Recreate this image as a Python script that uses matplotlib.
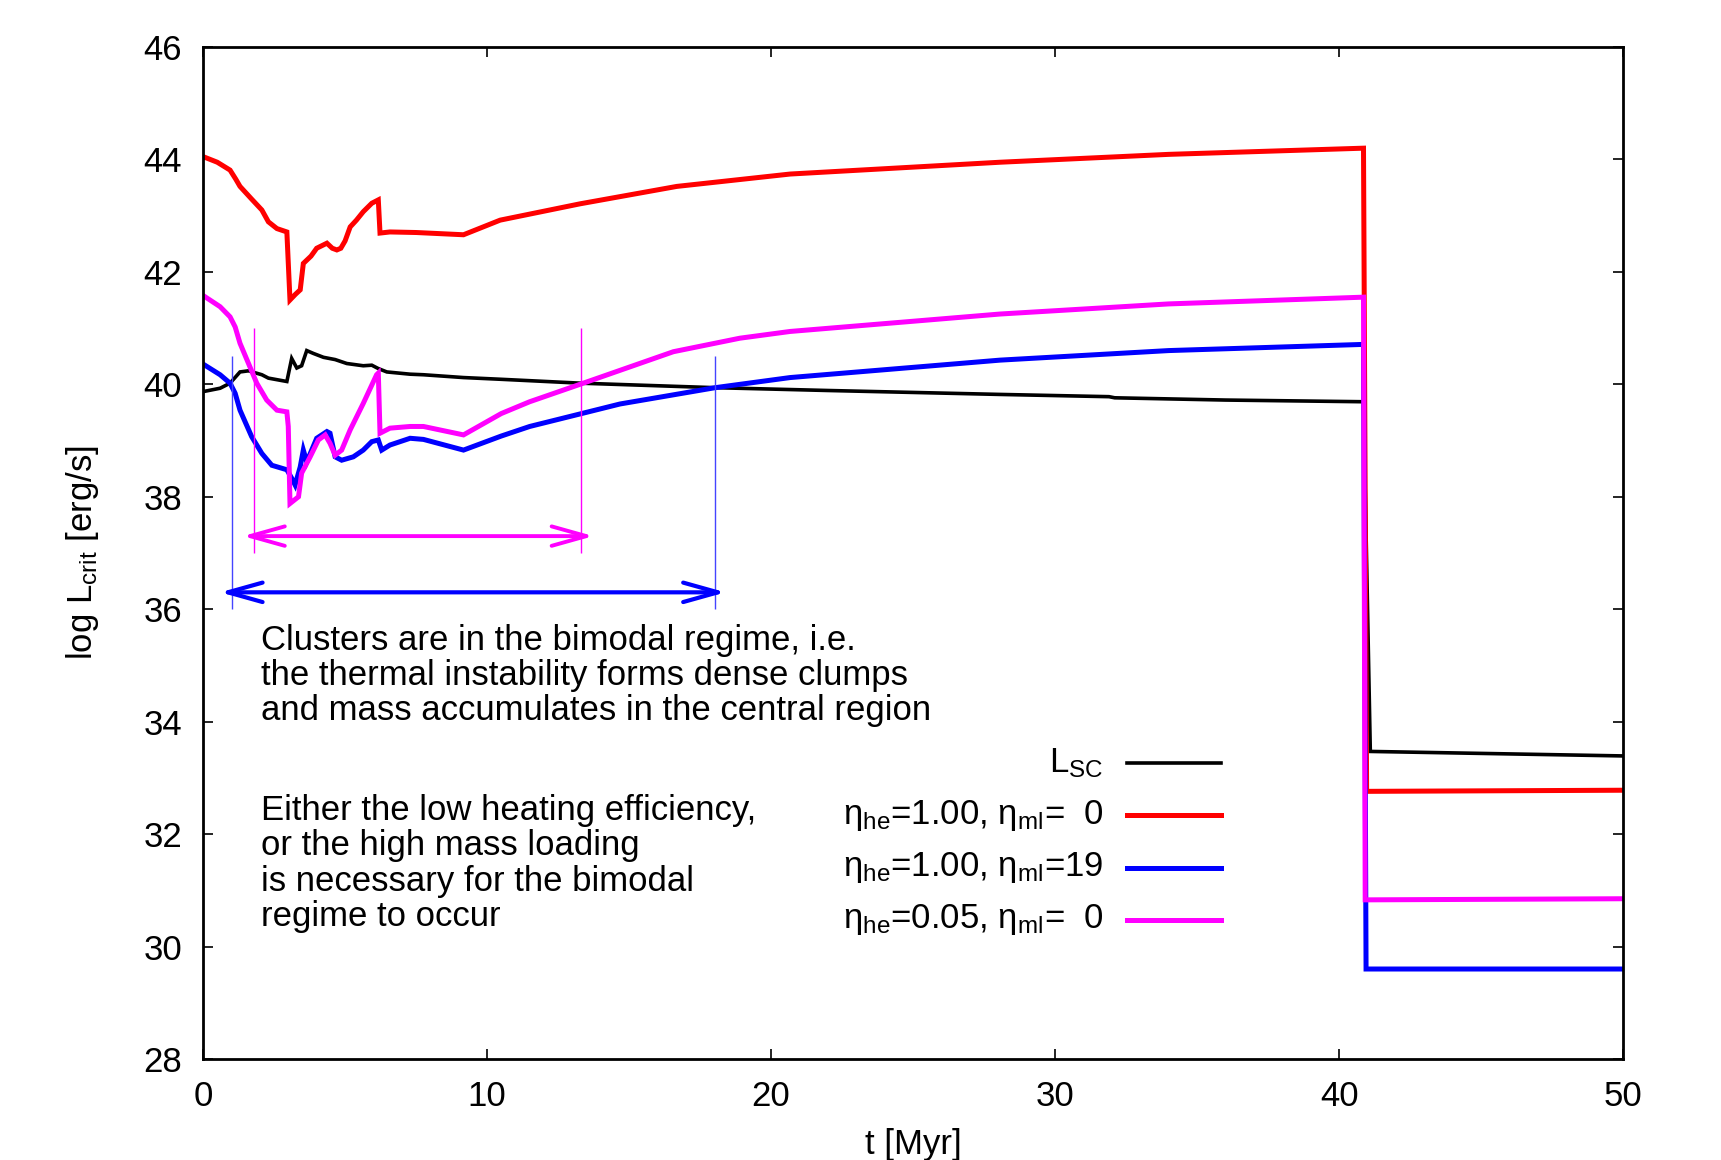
import matplotlib
matplotlib.use('Agg')
import matplotlib.pyplot as plt

plt.rcParams['font.family'] = ['Liberation Sans', 'DejaVu Sans']
plt.rcParams['mathtext.fontset'] = 'custom'
plt.rcParams['mathtext.rm'] = 'Liberation Sans'
plt.rcParams['mathtext.it'] = 'Liberation Sans:italic'

# L_SC (black)
t_sc = [0.0, 0.6, 0.95, 1.3, 1.6, 2.07, 2.3, 2.95, 3.12, 3.3, 3.47, 3.65, 3.88, 4.24,
        4.65, 5.06, 5.64, 5.94, 6.17, 6.47, 7.29, 7.76, 9.17, 10.46, 13.3, 18.03, 22.0,
        28.06, 31.9, 32.1, 36.0, 40.86, 41.1, 50.0]
L_sc = [39.87, 39.93, 40.02, 40.22, 40.24, 40.17, 40.11, 40.05, 40.46, 40.29, 40.33, 40.60,
        40.55, 40.48, 40.44, 40.37, 40.33, 40.34, 40.28, 40.22, 40.18, 40.17, 40.12, 40.09,
        40.02, 39.94, 39.89, 39.82, 39.78, 39.76, 39.72, 39.69, 33.47, 33.39]

# eta_he=1.00, eta_ml=0 (red)
t_red = [0.0, 0.5, 0.95, 1.15, 1.3, 1.7, 2.07, 2.3, 2.6, 2.95, 3.06, 3.25, 3.42, 3.53, 3.8,
         4.0, 4.36, 4.55, 4.71, 4.85, 5.0, 5.18, 5.4, 5.64, 5.94, 6.17, 6.23, 6.58, 7.5,
         9.17, 10.46, 13.27, 16.68, 20.67, 28.06, 34.0, 40.86, 40.97, 50.0]
L_red = [44.05, 43.95, 43.81, 43.65, 43.52, 43.30, 43.10, 42.89, 42.77, 42.71, 41.50, 41.60,
         41.68, 42.15, 42.28, 42.42, 42.51, 42.42, 42.39, 42.42, 42.55, 42.80, 42.92, 43.07,
         43.22, 43.28, 42.69, 42.71, 42.70, 42.66, 42.92, 43.21, 43.52, 43.74, 43.95, 44.09,
         44.20, 32.76, 32.78]

# eta_he=1.00, eta_ml=19 (blue)
t_blue = [0.0, 0.6, 0.95, 1.13, 1.3, 1.71, 2.07, 2.42, 2.95, 3.12, 3.24, 3.42, 3.53, 3.65,
          4.0, 4.36, 4.47, 4.65, 4.88, 5.29, 5.64, 5.94, 6.17, 6.29, 6.58, 7.29, 7.76, 9.17,
          10.5, 11.5, 13.33, 14.68, 18.03, 20.67, 28.06, 34.0, 40.86, 40.95, 50.0]
L_blue = [40.36, 40.17, 40.02, 39.84, 39.54, 39.07, 38.77, 38.56, 38.48, 38.33, 38.21, 38.53,
          38.83, 38.62, 39.04, 39.16, 39.13, 38.71, 38.65, 38.71, 38.83, 38.98, 39.01, 38.83,
          38.92, 39.04, 39.02, 38.83, 39.08, 39.25, 39.48, 39.65, 39.94, 40.12, 40.43, 40.60,
          40.71, 29.60, 29.60]

# eta_he=0.05, eta_ml=0 (magenta)
t_mag = [0.0, 0.6, 0.95, 1.13, 1.3, 1.6, 1.89, 2.24, 2.6, 2.95, 3.0, 3.06, 3.36, 3.47, 3.77,
         4.06, 4.3, 4.47, 4.65, 4.88, 5.18, 5.64, 6.11, 6.17, 6.23, 6.58, 7.29, 7.76, 9.17,
         10.5, 11.5, 13.33, 16.56, 18.9, 20.67, 28.06, 34.0, 40.86, 40.92, 50.0]
L_mag = [41.58, 41.38, 41.20, 41.02, 40.73, 40.37, 40.02, 39.72, 39.54, 39.51, 39.25, 37.88,
         38.00, 38.42, 38.71, 39.01, 39.10, 38.95, 38.74, 38.83, 39.19, 39.66, 40.17, 40.20,
         39.13, 39.22, 39.25, 39.25, 39.10, 39.48, 39.69, 40.01, 40.58, 40.82, 40.94, 41.25,
         41.43, 41.55, 30.83, 30.85]

# bimodal-regime markers: crossing times and arrow levels
blue_cross = [1.01, 18.03]
mag_cross = [1.81, 13.31]
blue_arrow = (0.6, 18.4, 36.30)
mag_arrow = (1.4, 13.75, 37.30)

labels = ['L$_{\\rm SC}$',
          'η$_{\\rm he}$=1.00, η$_{\\rm ml}$=  0',
          'η$_{\\rm he}$=1.00, η$_{\\rm ml}$=19',
          'η$_{\\rm he}$=0.05, η$_{\\rm ml}$=  0']
colors = ['black', '#ff0000', '#0000ff', '#ff00ff']
widths = [2.6, 3.6, 3.6, 3.6]

fig = plt.figure(figsize=(17.21, 11.6), dpi=100)
ax = fig.add_axes([0.1180, 0.0871, 0.8251, 0.8724])

series = [(t_sc, L_sc), (t_red, L_red), (t_blue, L_blue), (t_mag, L_mag)]
for (t, L), c, w in zip(series, colors, widths):
    ax.plot(t, L, color=c, lw=w, solid_joinstyle='miter')

ax.vlines(blue_cross, 36.0, 40.5, color='#4444ff', lw=1.0)
ax.vlines(mag_cross, 37.0, 41.0, color='#ff00ff', lw=1.0)
for (x0, x1, y), c, w in [(mag_arrow, '#ff00ff', 2.8), (blue_arrow, '#0000ff', 3.0)]:
    ax.annotate('', xy=(x0, y), xytext=(x1, y),
                arrowprops=dict(arrowstyle='<->,head_length=25,head_width=7',
                                mutation_scale=1, color=c, lw=w,
                                shrinkA=0, shrinkB=0))

fs = 25
ax.text(0.041, 0.430,
        'Clusters are in the bimodal regime, i.e.\n'
        'the thermal instability forms dense clumps\n'
        'and mass accumulates in the central region',
        transform=ax.transAxes, va='top', ha='left', fontsize=fs, linespacing=1.09)
ax.text(0.041, 0.262,
        'Either the low heating efficiency,\n'
        'or the high mass loading\n'
        'is necessary for the bimodal\n'
        'regime to occur',
        transform=ax.transAxes, va='top', ha='left', fontsize=fs, linespacing=1.09)

# key
for i, (lab, c, w) in enumerate(zip(labels, colors, widths)):
    yk = 0.2925 - i * 0.0517
    ax.text(0.634, yk, lab, transform=ax.transAxes, ha='right', va='center', fontsize=fs)
    ax.plot([0.651, 0.717], [yk, yk], transform=ax.transAxes, color=c, lw=w)

ax.set_xlim(0, 50)
ax.set_ylim(28, 46)
ax.set_xticks(range(0, 51, 10))
ax.set_yticks(range(28, 47, 2))
ax.tick_params(direction='in', top=True, right=True, length=7, width=1.2,
               labelsize=fs, pad=15)
for s in ax.spines.values():
    s.set_linewidth(2)

ax.set_xlabel('t [Myr]', fontsize=fs)
ax.xaxis.set_label_coords(0.5, -0.068)
ax.set_ylabel('log L$_{\\rm crit}$ [erg/s]', fontsize=fs)
ax.yaxis.set_label_coords(-0.072, 0.5)

fig.savefig('out.png', dpi=100)
